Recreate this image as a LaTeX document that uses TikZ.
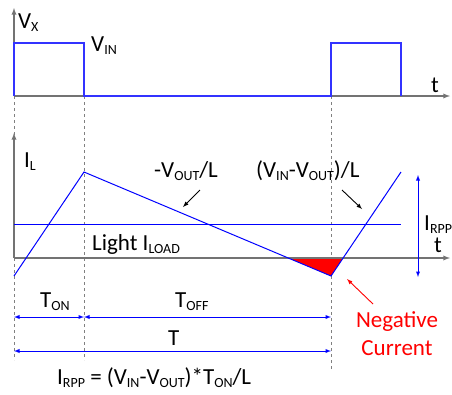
\documentclass[tikz,border=0pt]{standalone}
\usepackage{fontspec}
\setmainfont{Carlito}
\newcommand{\lowsub}[1]{\raisebox{-3.5pt}{\fontsize{14}{14}\selectfont #1}}

\begin{document}
\begin{tikzpicture}[
      x=1pt, y=-1pt,
      >=latex,
      axisline/.style={
          ->, draw=black!55, line width=1.3pt
      },
      wave/.style={
          draw=blue, line width=1pt
      },
      guide/.style={
          draw=black!50, dashed, line width=0.4pt
      },
      dimline/.style={
          <->, draw=blue, line width=0.9pt
      },
      pointer/.style={
          ->, line width=0.9pt
      },
      lbl/.style={
          font=\fontsize{23}{27}\selectfont, inner sep=0pt, anchor=base west
      }
  ]
    \useasboundingbox (0,0) rectangle (452,394);

    % time marks
    \coordinate (t0) at (14,96);
    \coordinate (t1) at (84,96);
    \coordinate (t2) at (331,96);

    % guide lines
    \draw[guide] (t0) -- (14,360);
    \draw[guide] (t1) -- (84,360);
    \draw[guide] (t2) -- (331,370);

    % (a) switch voltage V_X
    \draw[axisline] (t0) -- (14,8);
    \draw[axisline] (t0) -- (450,96);
    \draw[wave, draw=blue!80, line width=1.3pt] (t0) -- (14,43) -- (84,43) -- (t1) -- (t2)
        -- (331,43) -- (401,43) -- (401,96);
    \node[lbl] (vx) at (18,28) {V\lowsub{X}};
    \node[lbl] (vin) at (91,51) {V\lowsub{IN}};
    \node[lbl] (tv) at (431,92) {t};

    % (b) inductor current I_L
    \coordinate (i0) at (14,258);
    \coordinate (ilow1) at (14,276);
    \coordinate (ipk1) at (84,172);
    \coordinate (ilow2) at (331,276);
    \coordinate (ipk2) at (401,172);
    \fill[red] (288,258) -- (ilow2) -- (343,258) -- cycle;
    \draw[axisline] (i0) -- (14,133);
    \draw[axisline] (i0) -- (450,258);
    \draw[wave] (14,224) -- (401,224);
    \draw[wave] (ilow1) -- (ipk1) -- (ilow2) -- (ipk2);
    \node[lbl] (il) at (24,167) {I\lowsub{L}};
    \node[lbl] (fall) at (154,177) {-V\lowsub{OUT}/L};
    \node[lbl] (rise) at (256,177) {(V\lowsub{IN}-V\lowsub{OUT})/L};
    \node[lbl] (load) at (92,250) {Light I\lowsub{LOAD}};
    \node[lbl] (ti) at (434,252) {t};
    \node[lbl] (irpp) at (424,230) {I\lowsub{RPP}};

    % slope pointers
    \coordinate (fs) at (200,190);
    \coordinate (fe) at (183,207);
    \coordinate (rs) at (342,190);
    \coordinate (re) at (362,209);
    \draw[pointer] (fs) -- (fe);
    \draw[pointer] (rs) -- (re);

    % ripple span
    \coordinate (rtop) at (418,175);
    \coordinate (rbot) at (418,277);
    \draw[dimline] (rtop) -- (rbot);

    % negative current callout
    \coordinate (ns) at (373,304);
    \coordinate (ne) at (347,279);
    \draw[pointer, red] (ns) -- (ne);
    \node[lbl, anchor=base, text=red] (neg) at (397,327) {Negative};
    \node[lbl, anchor=base, text=red] (cur) at (397,355) {Current};

    % (c) period spans
    \coordinate (d0) at (14,317);
    \coordinate (d1) at (84,317);
    \coordinate (d2) at (331,317);
    \coordinate (e0) at (14,351);
    \coordinate (e2) at (331,351);
    \draw[dimline] (d0) -- (d1);
    \draw[dimline] (d1) -- (d2);
    \draw[dimline] (e0) -- (e2);
    \node[lbl] (ton) at (40,307) {T\lowsub{ON}};
    \node[lbl] (toff) at (175,307) {T\lowsub{OFF}};
    \node[lbl] (tper) at (168,345) {T};

    % ripple formula
    \node[lbl] (formula) at (57,384)
        {I\lowsub{RPP} = (V\lowsub{IN}-V\lowsub{OUT})*T\lowsub{ON}/L};
  \end{tikzpicture}
\end{document}
